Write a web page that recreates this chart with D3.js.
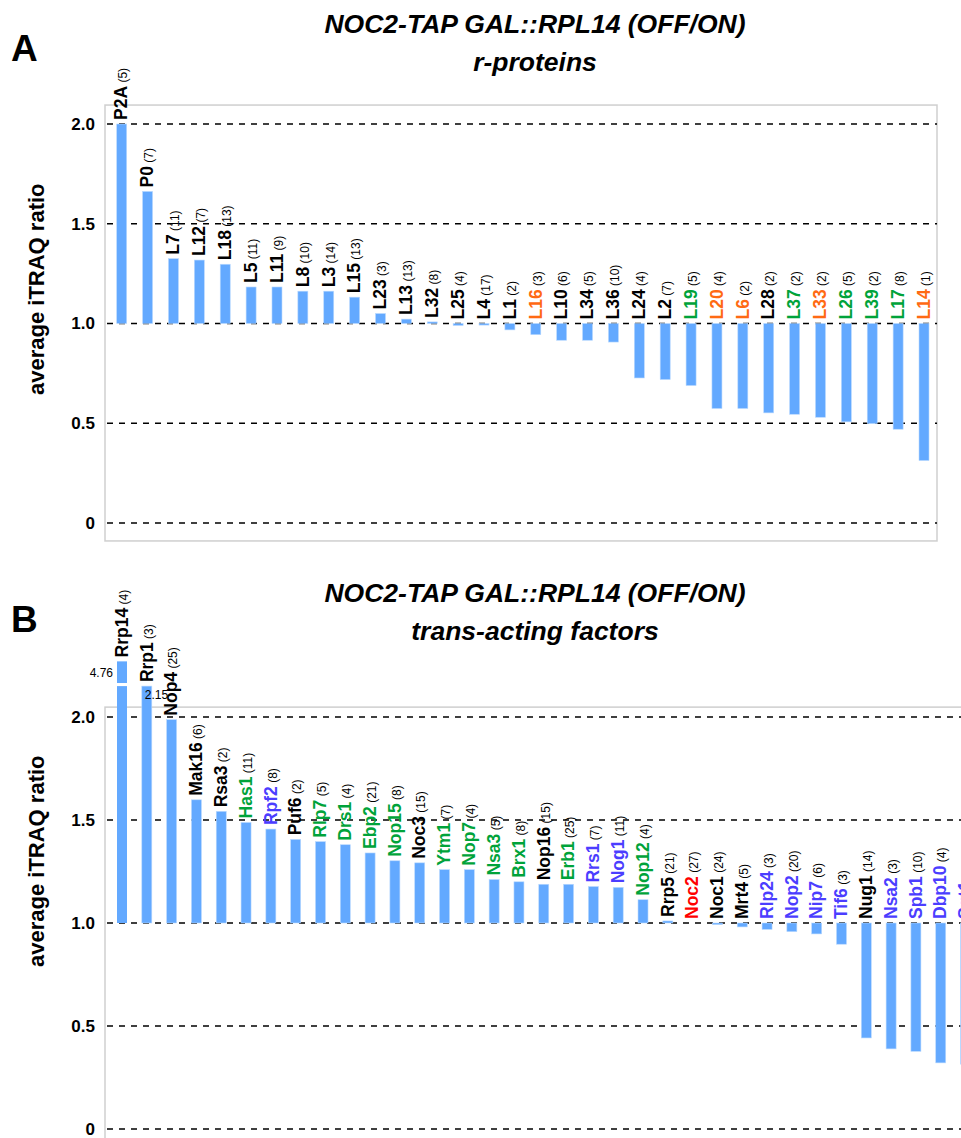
<!DOCTYPE html>
<html>
<head>
<meta charset="utf-8">
<script src="https://cdn.jsdelivr.net/npm/d3@7"></script>
<style>
  body { margin: 0; background: #fff; }
  svg { display: block; font-family: "Liberation Sans", Arial, Helvetica, sans-serif; }
</style>
</head>
<body>
<svg id="chart" width="961" height="1138"></svg>
<script>
// ---------- DATA ----------
const tickValues = [0, 0.5, 1.0, 1.5, 2.0];
const tickLabels = ["0", "0.5", "1.0", "1.5", "2.0"];

// Panel A: r-proteins
const catsA = ["P2A","P0","L7","L12","L18","L5","L11","L8","L3","L15","L23","L13","L32","L25","L4","L1","L16","L10","L34","L36","L24","L2","L19","L20","L6","L28","L37","L33","L26","L39","L17","L14"];
const valuesA = [2.00,1.662,1.325,1.318,1.297,1.183,1.183,1.162,1.162,1.132,1.050,1.022,1.008,0.990,0.992,0.968,0.944,0.916,0.916,0.907,0.727,0.719,0.689,0.574,0.574,0.552,0.545,0.530,0.507,0.498,0.470,0.313];
const countsA = [5,7,11,7,13,11,9,10,14,13,3,13,8,4,17,2,3,6,5,10,4,7,5,4,2,2,2,2,5,2,8,1];
const groupA = ["k","k","k","k","k","k","k","k","k","k","k","k","k","k","k","k","o","k","k","k","k","k","g","o","o","k","g","o","g","g","g","o"];

// Panel B: trans-acting factors
const catsB = ["Rrp14","Rrp1","Nop4","Mak16","Rsa3","Has1","Rpf2","Puf6","Rlp7","Drs1","Ebp2","Nop15","Noc3","Ytm1","Nop7","Nsa3","Brx1","Nop16","Erb1","Rrs1","Nog1","Nop12","Rrp5","Noc2","Noc1","Mrt4","Rlp24","Nop2","Nip7","Tif6","Nug1","Nsa2","Spb1","Dbp10","Sqt1"];
const valuesB = [4.76,2.15,1.987,1.598,1.542,1.488,1.456,1.406,1.395,1.380,1.340,1.302,1.292,1.259,1.259,1.211,1.200,1.188,1.188,1.177,1.173,1.113,1.010,1.000,0.992,0.981,0.969,0.958,0.947,0.897,0.442,0.389,0.377,0.321,0.315];
const countsB = [4,3,25,6,2,11,8,2,5,4,21,8,15,7,4,5,8,15,25,7,11,4,21,27,24,5,3,20,6,3,14,3,10,4,5];
const groupB = ["k","k","k","k","k","g","b","k","g","g","g","g","k","g","g","g","g","k","g","b","b","g","k","r","k","k","b","b","b","b","k","b","b","b","b"];

// Axis break for out-of-range value in panel B
const breakLow = 2.15, breakHigh = 2.165, breakCap = 2.27;

const colorMap = { k: "#000000", g: "#00a33a", o: "#ff6a13", b: "#4b3dff", r: "#ff0000" };
const barColor = "#63a9ff";

// ---------- DRAW ----------
const svg = d3.select("#chart");

function panel(opts) {
  const { cats, values, counts, groups, x, y, frame, letter, letterY, titleY, subtitle, ylabY } = opts;
  const g = svg.append("g");

  g.append("text").attr("x", 11).attr("y", letterY)
    .attr("font-size", 37).attr("font-weight", "bold").text(letter);
  g.append("text").attr("x", 535).attr("y", titleY).attr("text-anchor", "middle")
    .attr("font-size", 26.5).attr("font-weight", "bold").attr("font-style", "italic")
    .text("NOC2-TAP GAL::RPL14 (OFF/ON)");
  g.append("text").attr("x", 535).attr("y", titleY + 38).attr("text-anchor", "middle")
    .attr("font-size", 26.5).attr("font-weight", "bold").attr("font-style", "italic")
    .text(subtitle);

  g.append("rect").attr("x", frame.x0).attr("y", y(frame.top))
    .attr("width", frame.x1 - frame.x0).attr("height", y(frame.bottom) - y(frame.top))
    .attr("fill", "none").attr("stroke", "#cfcfcf").attr("stroke-width", 1.5);

  g.selectAll("line.grid").data(tickValues).join("line")
    .attr("x1", frame.x0 + 2).attr("x2", frame.x1)
    .attr("y1", d => y(d)).attr("y2", d => y(d))
    .attr("stroke", "#000").attr("stroke-width", 1.6).attr("stroke-dasharray", "6,6");

  g.selectAll("text.tick").data(tickValues).join("text")
    .attr("x", 95).attr("y", d => y(d)).attr("dy", "0.34em")
    .attr("text-anchor", "end").attr("font-size", 17).attr("font-weight", "bold")
    .text((d, i) => tickLabels[i]);

  g.append("text").attr("transform", `translate(44,${ylabY}) rotate(-90)`)
    .attr("text-anchor", "start").attr("font-size", 22).attr("font-weight", "bold")
    .text("average iTRAQ ratio");

  const bw = 10;
  cats.forEach((c, i) => {
    const v = values[i];
    const cx = x(c);
    let labelBase;
    if (v > breakLow && opts.hasBreak) {
      g.append("rect").attr("x", cx - bw / 2).attr("width", bw)
        .attr("y", y(breakLow)).attr("height", y(1) - y(breakLow)).attr("fill", barColor);
      g.append("rect").attr("x", cx - bw / 2).attr("width", bw)
        .attr("y", y(breakCap)).attr("height", y(breakHigh) - y(breakCap)).attr("fill", barColor);
      g.append("text").attr("x", cx - bw / 2 - 4).attr("y", y((breakCap + breakHigh) / 2)).attr("dy", "0.36em")
        .attr("text-anchor", "end").attr("font-size", 12).text(v.toFixed(2));
      labelBase = y(breakCap);
    } else {
      const yt = Math.min(y(v), y(1));
      const yb = Math.max(y(v), y(1));
      if (yb - yt > 0.3) {
        g.append("rect").attr("x", cx - bw / 2).attr("width", bw)
          .attr("y", yt).attr("height", yb - yt).attr("fill", barColor)
          .attr("stroke", "#b9d9ff").attr("stroke-width", 0.6);
      }
      labelBase = yt;
      if (opts.hasBreak && v >= breakLow - 1e-9 && v > 2) {
        g.append("text").attr("x", cx - 2).attr("y", y(v) + 13)
          .attr("font-size", 12).text(v.toFixed(2));
      }
    }
    const t = g.append("text")
      .attr("transform", `translate(${cx},${labelBase - 4}) rotate(-90)`)
      .attr("dy", "0.36em");
    t.append("tspan").attr("font-size", 17.5).attr("font-weight", "bold")
      .attr("fill", colorMap[groups[i]]).text(c);
    t.append("tspan").attr("font-size", 12).attr("fill", "#000").text(" (" + counts[i] + ")");
  });
}

const yA = d3.scaleLinear().domain([0, 2]).range([523, 124]);
const xA = d3.scalePoint().domain(catsA).range([121.7, 924]);
panel({
  cats: catsA, values: valuesA, counts: countsA, groups: groupA,
  x: xA, y: yA, frame: { x0: 105, x1: 937, top: 2.095, bottom: -0.09 },
  letter: "A", letterY: 61, titleY: 33, subtitle: "r-proteins", ylabY: 395, hasBreak: false
});

const yB = d3.scaleLinear().domain([0, 2]).range([1129, 717]);
const xB = d3.scalePoint().domain(catsB).range([122, 122 + 24.81 * (catsB.length - 1)]);
panel({
  cats: catsB, values: valuesB, counts: countsB, groups: groupB,
  x: xB, y: yB, frame: { x0: 105, x1: 1000, top: 2.048, bottom: -0.09 },
  letter: "B", letterY: 632, titleY: 602, subtitle: "trans-acting factors", ylabY: 967, hasBreak: true
});
</script>
</body>
</html>
